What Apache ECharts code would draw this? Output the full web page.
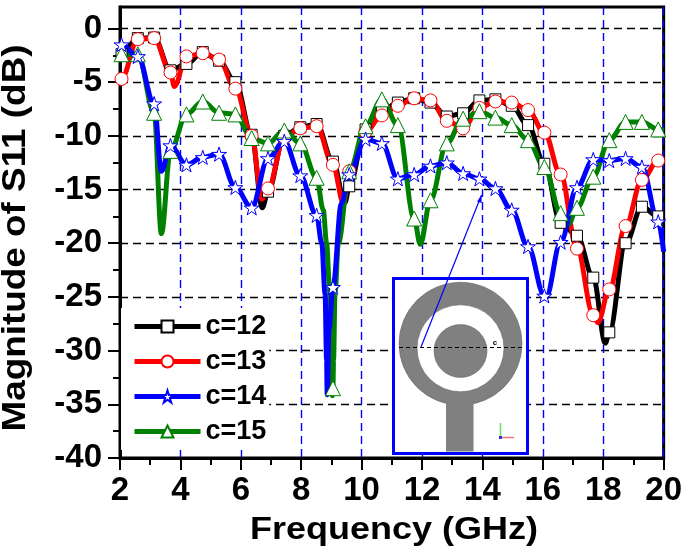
<!DOCTYPE html>
<html>
<head>
<meta charset="utf-8">
<title>S11</title>
<script src="https://cdn.jsdelivr.net/npm/echarts@6/dist/echarts.min.js"></script>
<style>
  html, body { margin: 0; padding: 0; background: #fff; }
  #main { width: 685px; height: 550px; }
</style>
</head>
<body>
<div id="main"></div>
<script>
// marker positions (GHz), same for every curve
const markFreq = [2.05,2.59,3.13,3.67,4.2,4.74,5.28,5.82,6.36,6.9,7.44,7.97,8.51,9.05,9.59,10.13,10.67,11.2,11.74,12.28,12.82,13.36,13.9,14.43,14.97,15.51,16.05,16.59,17.13,17.67,18.2,18.74,19.28,19.82];

const c12 = [-2.4,-0.9,-0.85,-3.9,-3.3,-2.2,-3.0,-5.0,-9.9,-15.2,-10.0,-9.2,-8.9,-12.4,-14.7,-9.4,-7.7,-6.9,-6.5,-6.9,-8.2,-7.9,-6.7,-6.6,-7.2,-9.0,-12.6,-18.1,-19.3,-23.2,-28.3,-20.0,-16.6,-17.5];
const c13 = [-4.7,-1.0,-0.9,-4.1,-2.6,-2.3,-2.9,-5.6,-10.0,-14.9,-10.2,-9.3,-9.1,-12.7,-13.3,-9.6,-8.1,-7.2,-6.5,-6.7,-8.6,-9.3,-7.4,-6.8,-6.9,-7.6,-9.7,-13.6,-20.5,-26.7,-24.3,-18.4,-14.1,-12.3];
const c14 = [-1.5,-2.6,-7.0,-10.9,-12.7,-12.0,-11.7,-14.8,-16.7,-12.1,-10.5,-13.7,-17.4,-24.1,-13.6,-10.3,-10.7,-14.0,-13.6,-12.8,-12.5,-13.5,-14.0,-14.9,-16.9,-20.3,-24.9,-19.9,-14.8,-12.2,-12.3,-12.1,-12.9,-18.0];
const c15 = [-2.4,-2.4,-7.85,-11.4,-8.0,-6.8,-7.85,-8.0,-10.2,-10.7,-9.5,-10.7,-13.9,-33.5,-13.3,-9.1,-6.6,-9.0,-17.7,-16.0,-10.7,-8.4,-7.7,-8.3,-9.0,-10.4,-12.9,-17.2,-16.7,-13.8,-10.4,-8.7,-8.7,-9.4];

// ends and dip points that fall between markers: [GHz, dB]
const c12Extra = [[2,-2.5],[6.71,-16.7],[9.45,-16.2],[18.07,-29.3],[20,-17.9]];
const c13Extra = [[2,-5.0],[3.8,-5.4],[6.7,-15.9],[9.4,-16.3],[17.82,-27.4],[20,-12.1]];
const c14Extra = [[2,-1.6],[3.37,-13.3],[8.68,-20],[8.79,-24.7],[8.84,-30.9],[8.86,-34.1],[8.92,-28],[9.33,-16.3],[16.1,-25.1],[20,-20.8]];
const c15Extra = [[2,-2.6],[3.37,-19.1],[8.73,-16.9],[8.84,-20],[8.93,-23.7],[8.98,-29.3],[9.03,-34.2],[9.07,-30.9],[9.12,-24.6],[9.23,-20],[11.94,-20.1],[16.84,-18.3],[20,-9.5]];

const yMajor = [-40,-35,-30,-25,-20,-15,-10,-5,0];

const starPath = 'path://M50 0L61.2 34.5L97.6 34.5L68.2 55.9L79.4 90.5L50 69.1L20.6 90.5L31.8 55.9L2.4 34.5L38.8 34.5Z';
const FONT = '"Liberation Sans", Arial, sans-serif';

function curve(name, values, extra, color, symbol, size) {
    const marks = markFreq.map((f, i) => ({ value: [f, values[i]] }));
    const others = extra.map(p => ({ value: p, symbol: 'none' }));
    const data = marks.concat(others).sort((a, b) => a.value[0] - b.value[0]);
    return {
        name: name,
        type: 'line',
        data: data,
        smooth: 0.35,
        smoothMonotone: 'x',
        symbol: symbol,
        symbolSize: size,
        symbolKeepAspect: true,
        showAllSymbol: true,
        lineStyle: { color: color, width: 5 },
        itemStyle: { color: '#fff', borderColor: color, borderWidth: 1 },
        emphasis: { disabled: true },
        animation: false
    };
}

// tiny dot in the middle of each open marker
function dots(values, color) {
    return {
        type: 'scatter',
        data: markFreq.map((f, i) => [f, values[i]]),
        symbolSize: 1.5,
        itemStyle: { color: color },
        silent: true,
        animation: false
    };
}

const chart = echarts.init(document.getElementById('main'));

chart.setOption({
    backgroundColor: '#fff',
    animation: false,
    grid: { left: 120, right: 17, top: 7, bottom: 92, show: true, borderColor: '#000', borderWidth: 3, backgroundColor: 'transparent' },
    legend: {
        left: 121, top: 308,
        orient: 'vertical',
        selectedMode: false,
        backgroundColor: '#fff',
        padding: [5, 3, 5, 11],
        itemWidth: 66, itemHeight: 15, itemGap: 8,
        lineStyle: { width: 5 },
        textStyle: { fontFamily: FONT, fontWeight: 'bold', fontSize: 27, color: '#000' },
        data: ['c=12', 'c=13', 'c=14', 'c=15']
    },
    xAxis: {
        type: 'value', min: 2, max: 20, interval: 2,
        axisLine: { show: true, onZero: false, lineStyle: { color: '#000', width: 3 } },
        axisTick: { show: true, length: 12, lineStyle: { color: '#000', width: 2 } },
        minorTick: { show: true, splitNumber: 2, length: 7, lineStyle: { color: '#000', width: 2 } },
        axisLabel: { fontFamily: FONT, fontWeight: 'bold', fontSize: 33, color: '#000', margin: 16, showMinLabel: true, showMaxLabel: true },
        splitLine: { show: true, lineStyle: { color: '#0000ff', width: 1.4, type: [8, 5] } }
    },
    yAxis: {
        type: 'value', min: -40, max: 2, interval: 5,
        axisLine: { show: true, onZero: false, lineStyle: { color: '#000', width: 3 } },
        axisTick: { show: true, length: 12, customValues: yMajor, lineStyle: { color: '#000', width: 2 } },
        minorTick: { show: true, splitNumber: 2, length: 7, lineStyle: { color: '#000', width: 2 } },
        axisLabel: { customValues: yMajor, fontFamily: FONT, fontWeight: 'bold', fontSize: 33, color: '#000', margin: 18 },
        splitLine: { show: true, lineStyle: { color: '#000', width: 1.4, type: [8, 5] } }
    },
    // drawn order: blue stays on top of green, legend keeps its own order
    series: [
        curve('c=12', c12, c12Extra, '#000000', 'rect', 11),
        curve('c=13', c13, c13Extra, '#ff0000', 'circle', 13),
        curve('c=15', c15, c15Extra, '#008000', 'triangle', 15),
        curve('c=14', c14, c14Extra, '#0000ff', starPath, 15),
        dots(c12, '#000000'),
        dots(c13, '#ff0000'),
        dots(c15, '#008000'),
        dots(c14, '#0000ff')
    ],
    graphic: [
        // axis titles
        { type: 'text', x: 394, y: 530, scaleX: 1.125, z: 10, style: { text: 'Frequency (GHz)', fontFamily: FONT, fontWeight: 'bold', fontSize: 32, fill: '#000', align: 'center', verticalAlign: 'middle' } },
        { type: 'text', x: 16, y: 238, rotation: Math.PI / 2, scaleX: 1.117, z: 10, style: { text: 'Magnitude of S11 (dB)', fontFamily: FONT, fontWeight: 'bold', fontSize: 33, fill: '#000', align: 'center', verticalAlign: 'middle' } },
        // inset: patch layout
        { type: 'rect', z: 20, shape: { x: 393.5, y: 278.5, width: 134, height: 175 }, style: { fill: '#fff', stroke: '#0000ff', lineWidth: 3 } },
        { type: 'circle', z: 21, shape: { cx: 460.5, cy: 343.7, r: 61.5 }, style: { fill: '#808080', stroke: '#666', lineWidth: 0.6 } },
        { type: 'rect', z: 21, shape: { x: 446, y: 398, width: 27.5, height: 53.5 }, style: { fill: '#808080' } },
        { type: 'circle', z: 22, shape: { cx: 460.5, cy: 348.3, r: 43.5 }, style: { fill: '#fff', stroke: '#666', lineWidth: 0.6 } },
        { type: 'circle', z: 23, shape: { cx: 460.5, cy: 351, r: 26.5 }, style: { fill: '#808080', stroke: '#666', lineWidth: 0.6 } },
        { type: 'line', z: 24, shape: { x1: 399, y1: 347.5, x2: 522, y2: 347.5 }, style: { stroke: '#000', lineWidth: 1, lineDash: [4, 3] } },
        { type: 'text', z: 24, x: 495, y: 343, style: { text: 'c', fontFamily: FONT, fontWeight: 'bold', fontSize: 8, fill: '#000', align: 'center', verticalAlign: 'middle' } },
        { type: 'line', z: 24, shape: { x1: 500.5, y1: 423, x2: 500.5, y2: 437.5 }, style: { stroke: '#66dd66', lineWidth: 1.5 } },
        { type: 'line', z: 24, shape: { x1: 500.5, y1: 437.5, x2: 514, y2: 437.5 }, style: { stroke: '#ee7777', lineWidth: 1.5 } },
        { type: 'rect', z: 24, shape: { x: 499, y: 436, width: 3, height: 3 }, style: { fill: '#3333dd' } },
        // arrow from the inset up to the curve
        { type: 'line', z: 25, shape: { x1: 421, y1: 347, x2: 481.5, y2: 195 }, style: { stroke: '#0000ff', lineWidth: 1.2 } },
        { type: 'polygon', z: 25, shape: { points: [[481.7, 195], [481.5, 203], [477, 201.5]] }, style: { fill: '#0000ff' } }
    ]
});
</script>
</body>
</html>
